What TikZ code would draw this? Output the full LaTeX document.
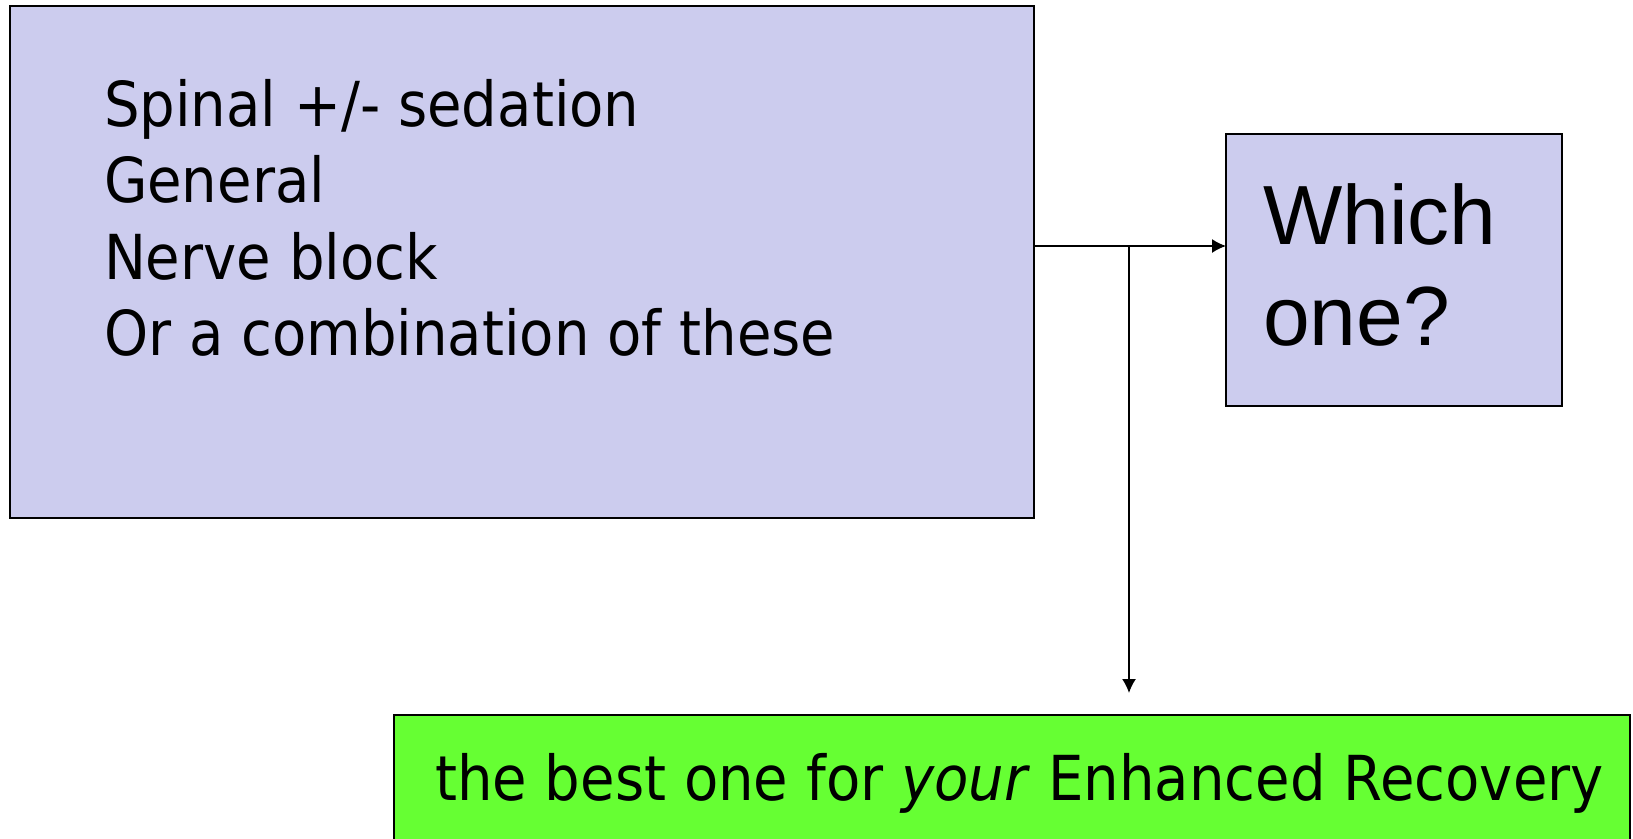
\documentclass[tikz,border=0pt]{standalone}
\usepackage{fontspec}
\setmainfont{DejaVu Sans}[FakeStretch=0.905]
\newfontfamily\arialfont{Liberation Sans}
\usetikzlibrary{arrows.meta}
\definecolor{boxblue}{RGB}{204,204,238}
\definecolor{boxgreen}{RGB}{102,255,51}
\begin{document}
\begin{tikzpicture}[x=1pt,y=-1pt,
  box/.style={draw=black,line width=1.6pt,anchor=north west,inner sep=0pt,outer sep=0pt},
  txt/.style={inner sep=0pt,outer sep=0pt,align=left,anchor=base west},
  conn/.style={line width=1.6pt,-{Latex[length=14pt,width=14pt]}}]
\useasboundingbox (0,0) rectangle (1633,838);
\node[box,fill=boxblue,minimum width=1024pt,minimum height=512pt] (opts) at (10,6) {};
\node[box,fill=boxblue,minimum width=336pt,minimum height=272pt] (which) at (1226,134) {};
\node[box,fill=boxgreen,minimum width=1236pt,minimum height=140pt] (best) at (394,715) {};
\node[txt,font=\fontsize{62}{76.6}\selectfont] (t1) at (104,126) {Spinal +/- sedation};
\node[txt,font=\fontsize{62}{76.6}\selectfont] (t2) at (104,202.6) {General};
\node[txt,font=\fontsize{62}{76.6}\selectfont] (t3) at (104,279.2) {Nerve block};
\node[txt,font=\fontsize{62}{76.6}\selectfont] (t4) at (104,355.8) {Or a combination of these};
\node[txt,font=\arialfont\fontsize{84}{101}\selectfont] (w1) at (1263,244) {Which};
\node[txt,font=\arialfont\fontsize{84}{101}\selectfont] (w2) at (1263,345) {one?};
\node[txt,font=\fontsize{62}{76.6}\selectfont] (g) at (435,800) {the best one for \textit{your} Enhanced Recovery};
\coordinate (a) at (opts.east |- 0,246);
\coordinate (j) at (1129,246);
\draw[conn] (a) -- (which.west |- a);
\draw[conn] (j) -- (j |- 0,693);
\end{tikzpicture}
\end{document}
